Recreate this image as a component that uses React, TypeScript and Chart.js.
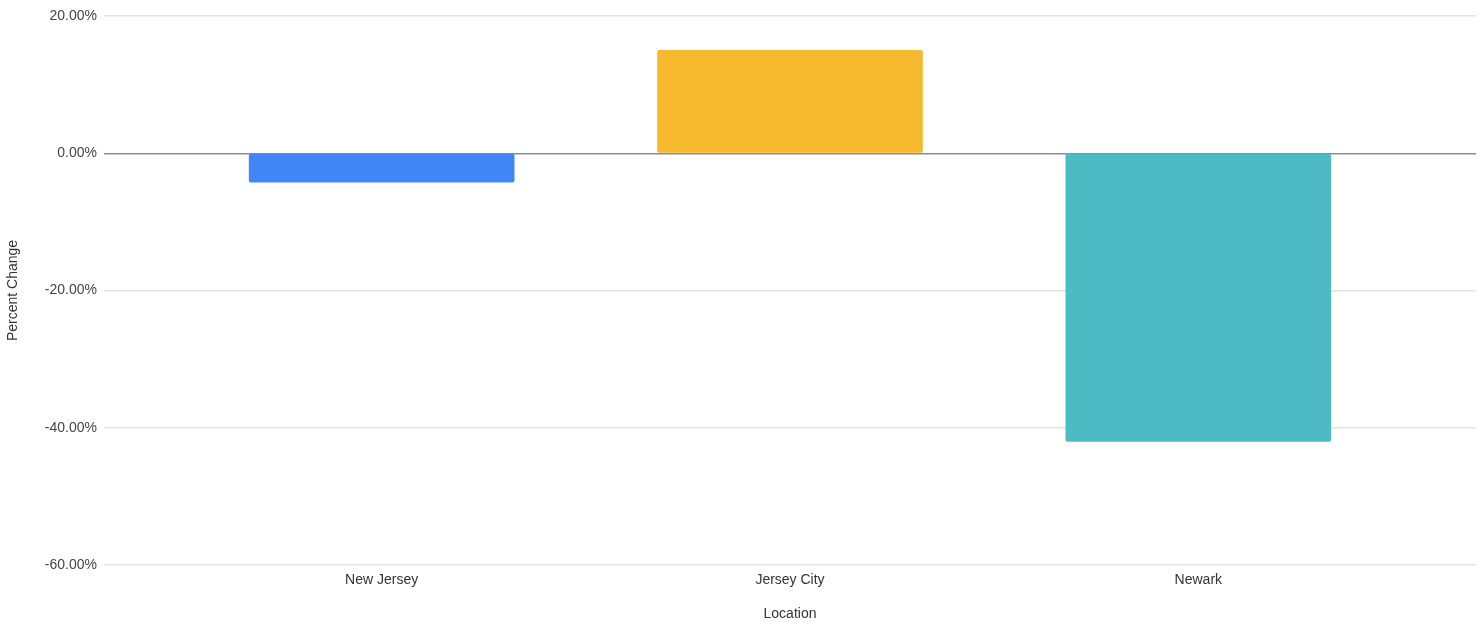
import React, { useEffect, useRef } from "react";
import { Chart, registerables } from "chart.js";

Chart.register(...registerables);

const categories: string[] = ["New Jersey", "Jersey City", "Newark"];
const percentChange: number[] = [-4.2, 15.0, -42.0];
const barColors: string[] = ["#4285F4", "#F7B92E", "#4DBAC4"];
const yTicks: number[] = [20, 0, -20, -40, -60];

const FONT = "'Liberation Sans', Arial, Helvetica, sans-serif";

export default function App() {
  const ref = useRef<HTMLCanvasElement | null>(null);

  useEffect(() => {
    if (!ref.current) return;
    const chart = new Chart(ref.current, {
      type: "bar",
      data: {
        datasets: [
          {
            label: "Percent Change",
            data: categories.map((_, i) => ({ x: i, y: percentChange[i] })),
            backgroundColor: barColors,
            borderWidth: 0,
            borderRadius: 2,
            borderSkipped: false,
            barThickness: 265,
          },
        ],
      },
      options: {
        animation: false,
        responsive: true,
        maintainAspectRatio: false,
        layout: { padding: { top: 16, right: 6, left: 0, bottom: 0 } },
        plugins: {
          legend: { display: false },
          tooltip: { enabled: false },
        },
        scales: {
          x: {
            type: "linear",
            offset: false,
            min: -0.68,
            max: 2.68,
            afterBuildTicks: (scale: any) => {
              scale.ticks = categories.map((_, i) => ({ value: i }));
            },
            afterFit: (scale: any) => {
              scale.height = 60;
            },
            ticks: {
              autoSkip: false,
              maxRotation: 0,
              padding: 7,
              color: "#333333",
              font: { family: FONT, size: 14 },
              callback: (v: any) => categories[Number(v)] ?? "",
            },
            grid: { display: false, drawTicks: false, offset: false },
            border: { display: false },
            title: {
              display: true,
              text: "Location",
              color: "#333333",
              font: { family: FONT, size: 14 },
              padding: { top: 0, bottom: 2 },
            },
          },
          y: {
            min: -60,
            max: 20,
            afterBuildTicks: (scale: any) => {
              scale.ticks = yTicks.map((v) => ({ value: v }));
            },
            afterFit: (scale: any) => {
              scale.width = 104;
            },
            ticks: {
              padding: 7,
              color: "#444444",
              font: { family: FONT, size: 14 },
              callback: (v: any) => Number(v).toFixed(2) + "%",
            },
            grid: {
              drawTicks: false,
              color: (ctx: any) => (ctx.tick && ctx.tick.value === 0 ? "#8c8c8c" : "#e3e3e3"),
              lineWidth: 1.5,
            },
            border: { display: false },
            title: {
              display: true,
              text: "Percent Change",
              color: "#333333",
              font: { family: FONT, size: 14 },
              padding: { top: 5, bottom: 0 },
            },
          },
        },
      },
    });
    return () => chart.destroy();
  }, []);

  return (
    <div
      style={{
        position: "absolute",
        left: 0,
        top: 0,
        width: 1482,
        height: 625,
        background: "#ffffff",
      }}
    >
      <canvas ref={ref} />
    </div>
  );
}
